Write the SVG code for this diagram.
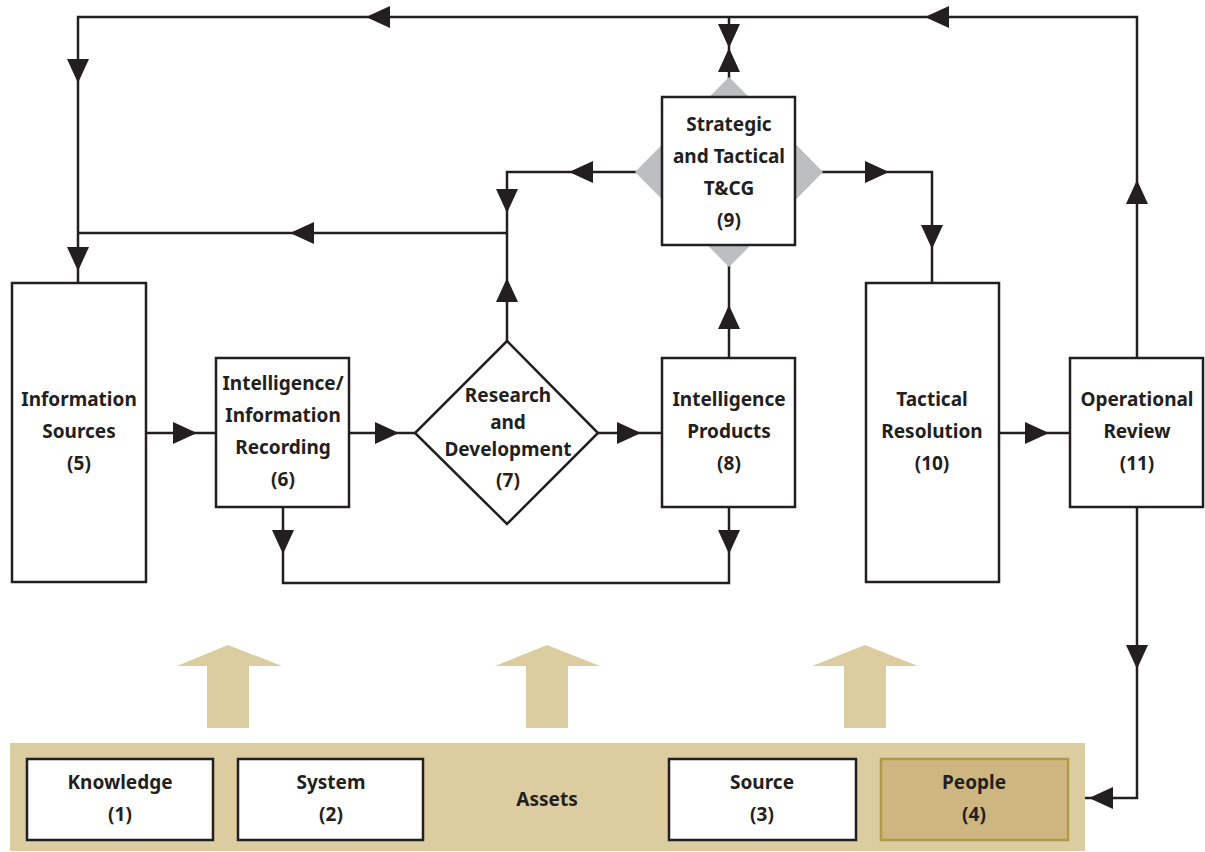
<svg xmlns="http://www.w3.org/2000/svg" width="1205" height="852" viewBox="0 0 1205 852">
<style>
.box{fill:#fff;stroke:#231f20;stroke-width:2.5}
.ln{fill:none;stroke:#231f20;stroke-width:2.5}
.ah{fill:#231f20}
.t{font-family:"Noto Sans","Open Sans",sans-serif;font-weight:bold;font-size:19px;fill:#231f20;text-anchor:middle}
.tan{fill:#dccda0}
</style>
<defs>
<path id="aR" d="M-12,-11 L12,0 L-12,11 Z"/>
<path id="aL" d="M12,-11 L-12,0 L12,11 Z"/>
<path id="aU" d="M-11,12 L0,-12 L11,12 Z"/>
<path id="aD" d="M-11,-12 L0,12 L11,-12 Z"/>
</defs>
<rect width="1205" height="852" fill="#fff"/>

<g id="connectors">
<polyline class="ln" points="1137,358 1137,17 78,17 78,283"/>
<line class="ln" x1="729" y1="17" x2="729" y2="80"/>
<polyline class="ln" points="508,233 78,233"/>
<polyline class="ln" points="507,341 507,172 640,172"/>
<polyline class="ln" points="818,172 932,172 932,283"/>
<line class="ln" x1="729" y1="358" x2="729" y2="262"/>
<line class="ln" x1="146" y1="433" x2="216" y2="433"/>
<line class="ln" x1="349" y1="433" x2="415" y2="433"/>
<line class="ln" x1="598" y1="433" x2="662" y2="433"/>
<line class="ln" x1="999" y1="433" x2="1070" y2="433"/>
<polyline class="ln" points="283,507 283,583 729,583 729,507"/>
<polyline class="ln" points="1137,507 1137,798 1085,798"/>
<use href="#aL" class="ah" x="378" y="17"/>
<use href="#aL" class="ah" x="937" y="17"/>
<use href="#aD" class="ah" x="78" y="71"/>
<use href="#aD" class="ah" x="78" y="259"/>
<use href="#aL" class="ah" x="302" y="233"/>
<use href="#aD" class="ah" x="729" y="36"/>
<use href="#aU" class="ah" x="729" y="60"/>
<use href="#aL" class="ah" x="581" y="172"/>
<use href="#aD" class="ah" x="507" y="201"/>
<use href="#aU" class="ah" x="507" y="290"/>
<use href="#aR" class="ah" x="877" y="172"/>
<use href="#aD" class="ah" x="932" y="237"/>
<use href="#aU" class="ah" x="729" y="317"/>
<use href="#aU" class="ah" x="1137" y="192"/>
<use href="#aR" class="ah" x="185" y="433"/>
<use href="#aR" class="ah" x="387" y="433"/>
<use href="#aR" class="ah" x="629" y="433"/>
<use href="#aR" class="ah" x="1037" y="433"/>
<use href="#aD" class="ah" x="283" y="542"/>
<use href="#aD" class="ah" x="729" y="542"/>
<use href="#aD" class="ah" x="1137" y="657"/>
<use href="#aL" class="ah" x="1101" y="798"/>
</g>

<g id="tan-arrows">
<polygon class="tan" points="228,645 282,666 249,666 249,728 207,728 207,666 177,666"/>
<polygon class="tan" points="547,645 600,666 568,666 568,728 526,728 526,666 495,666"/>
<polygon class="tan" points="865,645 918,666 886,666 886,728 844,728 844,666 812,666"/>
</g>

<g id="n5">
<rect class="box" x="12" y="283" width="134" height="299"/>
<text class="t" x="79" y="406">Information</text>
<text class="t" x="79" y="438">Sources</text>
<text class="t" x="79" y="470">(5)</text>
</g>
<g id="n6">
<rect class="box" x="216" y="358" width="133" height="149"/>
<text class="t" x="283" y="390">Intelligence/</text>
<text class="t" x="283" y="422">Information</text>
<text class="t" x="283" y="454">Recording</text>
<text class="t" x="283" y="486">(6)</text>
</g>
<g id="n7">
<polygon class="box" points="507,341 598,433 507,524 415,433"/>
<text class="t" x="508" y="402">Research</text>
<text class="t" x="508" y="429">and</text>
<text class="t" x="508" y="456">Development</text>
<text class="t" x="508" y="487">(7)</text>
</g>
<g id="n8">
<rect class="box" x="662" y="358" width="133" height="149"/>
<text class="t" x="729" y="406">Intelligence</text>
<text class="t" x="729" y="438">Products</text>
<text class="t" x="729" y="470">(8)</text>
</g>
<g id="n9">
<polygon points="729,77 823,172 729,267 635,172" fill="#bcbec0"/>
<rect class="box" x="662" y="97" width="133" height="148"/>
<text class="t" x="729" y="131">Strategic</text>
<text class="t" x="729" y="163">and Tactical</text>
<text class="t" x="729" y="195">T&amp;CG</text>
<text class="t" x="729" y="227">(9)</text>
</g>
<g id="n10">
<rect class="box" x="866" y="283" width="133" height="299"/>
<text class="t" x="932" y="406">Tactical</text>
<text class="t" x="932" y="438">Resolution</text>
<text class="t" x="932" y="470">(10)</text>
</g>
<g id="n11">
<rect class="box" x="1070" y="358" width="133" height="149"/>
<text class="t" x="1137" y="406">Operational</text>
<text class="t" x="1137" y="438">Review</text>
<text class="t" x="1137" y="470">(11)</text>
</g>

<g id="assets">
<rect class="tan" x="10" y="743" width="1075" height="108"/>
<text class="t" x="547" y="806">Assets</text>
</g>
<g id="n1">
<rect class="box" x="27" y="759" width="186" height="81"/>
<text class="t" x="120" y="789">Knowledge</text>
<text class="t" x="120" y="821">(1)</text>
</g>
<g id="n2">
<rect class="box" x="238" y="759" width="185" height="81"/>
<text class="t" x="331" y="789">System</text>
<text class="t" x="331" y="821">(2)</text>
</g>
<g id="n3">
<rect class="box" x="669" y="759" width="187" height="81"/>
<text class="t" x="762" y="789">Source</text>
<text class="t" x="762" y="821">(3)</text>
</g>
<g id="n4">
<rect x="881" y="759" width="187" height="81" fill="#cdb67f" stroke="#b09a4a" stroke-width="2.5"/>
<text class="t" x="974" y="789">People</text>
<text class="t" x="974" y="821">(4)</text>
</g>
</svg>
